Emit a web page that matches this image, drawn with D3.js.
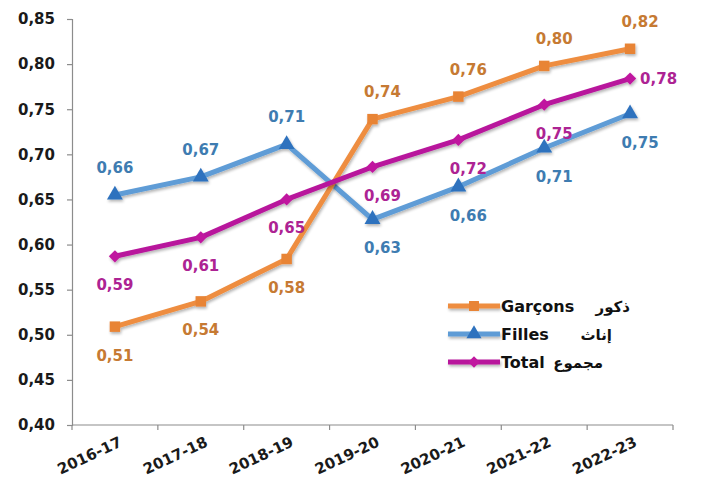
<!DOCTYPE html>
<html>
<head>
<meta charset="utf-8">
<script src="https://cdn.jsdelivr.net/npm/d3@7"></script>
<style>
html,body{margin:0;padding:0;background:#fff;}
svg{display:block;}
text{font-family:"DejaVu Sans",Arial,sans-serif;font-weight:bold;}
</style>
</head>
<body>
<svg id="chart" width="703" height="479"></svg>
<script>
const categories = ["2016-17","2017-18","2018-19","2019-20","2020-21","2021-22","2022-23"];
const garcons = [0.509,0.537,0.584,0.739,0.764,0.798,0.817];
const filles  = [0.655,0.675,0.711,0.628,0.664,0.707,0.745];
const total   = [0.587,0.608,0.650,0.686,0.716,0.755,0.784];
const garconsLabels = ["0,51","0,54","0,58","0,74","0,76","0,80","0,82"];
const fillesLabels  = ["0,66","0,67","0,71","0,63","0,66","0,71","0,75"];
const totalLabels   = ["0,59","0,61","0,65","0,69","0,72","0,75","0,78"];
const yTicks = [0.40,0.45,0.50,0.55,0.60,0.65,0.70,0.75,0.80,0.85];
const legendNames = ["Garçons","Filles","Total"];
const legendArabic = ["ذكور","إناث","مجموع"];

(function(){
const svg = d3.select("#chart");
const pL = 72, pR = 673, pT = 19, pB = 425;

const x = d3.scaleBand().domain(categories).range([pL, pR]);
const y = d3.scaleLinear().domain([0.40, 0.85]).range([pB, pT]);
const cx = c => x(c) + x.bandwidth() / 2;

// shadow filter
const defs = svg.append("defs");
const f = defs.append("filter").attr("id","soft").attr("filterUnits","userSpaceOnUse")
  .attr("x",0).attr("y",0).attr("width",703).attr("height",479);
f.append("feGaussianBlur").attr("in","SourceAlpha").attr("stdDeviation",1.5).attr("result","b");
f.append("feOffset").attr("in","b").attr("dx",1).attr("dy",1.5).attr("result","o");
f.append("feComponentTransfer").attr("in","o").attr("result","o2")
  .append("feFuncA").attr("type","linear").attr("slope",0.3);
const m = f.append("feMerge");
m.append("feMergeNode").attr("in","o2");
m.append("feMergeNode").attr("in","SourceGraphic");

// axes
const axisColor = "#8c8c8c";
const yAxis = svg.append("g").attr("transform",`translate(${pL},0)`)
  .call(d3.axisLeft(y).tickValues(yTicks).tickSize(5).tickPadding(12)
    .tickFormat(d => d3.format(".2f")(d).replace(".", ",")));
yAxis.select(".domain").attr("stroke",axisColor).attr("stroke-width",1.2);
yAxis.selectAll(".tick line").attr("stroke",axisColor).attr("stroke-width",1.2);
yAxis.selectAll(".tick text").attr("font-size",15).attr("fill","#1a1a1a")
  .attr("font-family","'DejaVu Sans',Arial,sans-serif").attr("font-weight","bold");

const xAxis = svg.append("g").attr("transform",`translate(0,${pB})`);
xAxis.append("line").attr("x1",pL).attr("x2",pR).attr("stroke",axisColor).attr("stroke-width",1.2);
const boundaries = categories.map(c => x(c)).concat([pR]);
xAxis.selectAll("line.tk").data(boundaries).enter().append("line").attr("class","tk")
  .attr("x1",d=>d).attr("x2",d=>d).attr("y1",0).attr("y2",5)
  .attr("stroke",axisColor).attr("stroke-width",1.2);
xAxis.selectAll("text.xl").data(categories).enter().append("text").attr("class","xl")
  .attr("transform", d => `translate(${cx(d)+3},${10}) rotate(-25)`)
  .attr("text-anchor","end").attr("dy","0.78em")
  .attr("font-size",15).attr("fill","#1a1a1a").text(d => d);

// series
const series = [
  {name:"Garçons", values:garcons, labels:garconsLabels, line:"#EE8D3F", marker:"#E88436", label:"#C67A33", shape:"square",
   pos:["below","below","below","above","above","above","above"]},
  {name:"Filles", values:filles, labels:fillesLabels, line:"#5E9CD6", marker:"#2E72BE", label:"#3E7CB1", shape:"triangle",
   pos:["above","above","above","below","below","below","below"]},
  {name:"Total", values:total, labels:totalLabels, line:"#B8169C", marker:"#C0189F", label:"#AD2393", shape:"diamond",
   pos:["below","below","below","below","below","below","right"]}
];
const symbolFor = s => s === "triangle" ? d3.symbolTriangle : d3.symbolSquare;
const sizeFor = s => s === "square" ? 110 : s === "triangle" ? 110 : 75;
const rotFor = s => s === "diamond" ? 45 : 0;

const line = d3.line().x((d,i) => cx(categories[i])).y(d => y(d));

[series[1], series[0], series[2]].forEach(s => {
  const g = svg.append("g").attr("filter","url(#soft)");
  g.append("path").datum(s.values).attr("d", line).attr("fill","none")
    .attr("stroke", s.line).attr("stroke-width", 5).attr("stroke-linejoin","round");
  g.selectAll("path.mk").data(s.values).enter().append("path").attr("class","mk")
    .attr("d", d3.symbol().type(symbolFor(s.shape)).size(sizeFor(s.shape)))
    .attr("transform",(d,i) => `translate(${cx(categories[i])},${y(d)}) rotate(${rotFor(s.shape)})`)
    .attr("fill", s.marker);
});

// labels
series.forEach(s => {
  svg.selectAll(null).data(s.values).enter().append("text")
    .attr("x",(d,i) => {
      const p = s.pos[i];
      if (p === "right") return cx(categories[i]) + 10;
      return cx(categories[i]) + (i >= 3 ? 10 : 0);
    })
    .attr("y",(d,i) => {
      const p = s.pos[i];
      if (p === "above") return y(d) - 22;
      if (p === "below") return y(d) + 34;
      return y(d) + 5;
    })
    .attr("text-anchor",(d,i) => s.pos[i] === "right" ? "start" : "middle")
    .attr("font-size",15).attr("fill", s.label)
    .text((d,i) => s.labels[i]);
});

// legend
const legY = [306, 334, 362];
const arabicX = [630, 612, 603];
series.forEach((s,i) => {
  const g = svg.append("g");
  g.append("line").attr("x1",448).attr("x2",500).attr("y1",legY[i]).attr("y2",legY[i])
    .attr("stroke",s.line).attr("stroke-width",5).attr("filter","url(#soft)");
  g.append("path").attr("d", d3.symbol().type(symbolFor(s.shape)).size(sizeFor(s.shape)*0.9))
    .attr("transform",`translate(474,${legY[i]}) rotate(${rotFor(s.shape)})`).attr("fill",s.marker);
  g.append("text").attr("x",501).attr("y",legY[i]+6).attr("font-size",16).attr("fill","#111")
    .text(legendNames[i]);
  g.append("text").attr("x",arabicX[i]).attr("y",legY[i]+6).attr("font-size",15).attr("fill","#111")
    .attr("text-anchor","end")
    .text(legendArabic[i]);
});
})();
</script>
</body>
</html>
